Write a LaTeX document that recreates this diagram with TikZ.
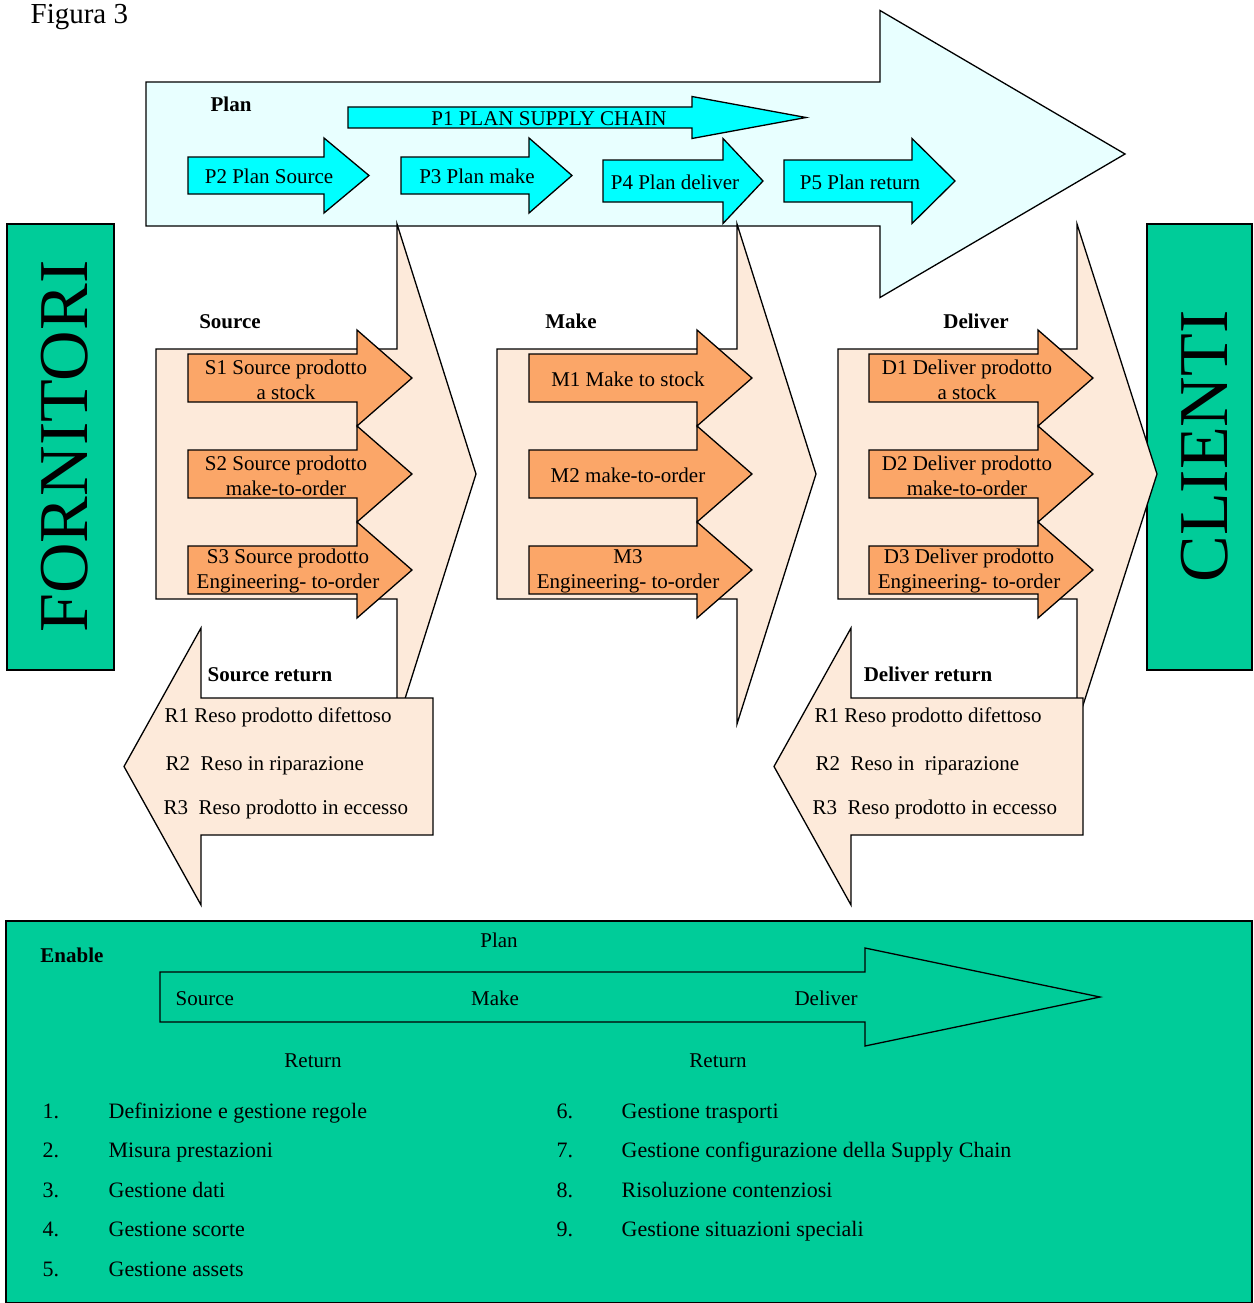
\documentclass[tikz,border=0pt]{standalone}
\usepackage{fontspec}
\setmainfont{Liberation Serif}

\definecolor{planbg}{RGB}{232,255,255}
\definecolor{plancyan}{RGB}{0,255,255}
\definecolor{peach}{RGB}{253,234,218}
\definecolor{procorange}{RGB}{251,166,104}
\definecolor{scorgreen}{RGB}{0,204,153}

% block arrow: style, back x, neck x, tip x, mid y, half body, half head
\newcommand{\fatarrow}[7]{%
  \filldraw[#1] (#2,#5-#6) -- (#3,#5-#6) -- (#3,#5-#7) -- (#4,#5)
    -- (#3,#5+#7) -- (#3,#5+#6) -- (#2,#5+#6) -- cycle;}

\begin{document}
\begin{tikzpicture}[x=1pt, y=-1pt, line width=1.3pt,
    plain/.style={font=\fontsize{21}{25}\selectfont, inner sep=0pt, align=center},
    heading/.style={font=\fontsize{21}{25}\selectfont\bfseries, inner sep=0pt, anchor=base},
    listtxt/.style={font=\fontsize{22}{26}\selectfont, inner sep=0pt, anchor=base west},
    bigtxt/.style={font=\fontsize{70}{70}\selectfont, inner sep=0pt, rotate=90, anchor=base},
    planshape/.style={draw=black, fill=planbg},
    planarrow/.style={draw=black, fill=plancyan},
    chevron/.style={draw=black, fill=peach},
    procarrow/.style={draw=black, fill=procorange},
    greenbox/.style={draw=black, fill=scorgreen}]

  \useasboundingbox (0,0) rectangle (1253,1303);

  \node[plain, anchor=base west, font=\fontsize{29}{32}\selectfont] (figtitle) at (30,24) {Figura 3};

  % Suppliers and customers
  \filldraw[greenbox] (7,224) rectangle (114,670);
  \filldraw[greenbox] (1147,224) rectangle (1252,670);
  \node[bigtxt] (fornitori) at (87,446.5) {FORNITORI};
  \node[bigtxt] (clienti) at (1227,446.5) {CLIENTI};

  % Plan
  \fatarrow{planshape}{146}{880}{1125}{154}{72}{143.5}
  \fatarrow{planarrow}{348}{692}{806}{117.5}{10.5}{21}
  \fatarrow{planarrow}{188}{324}{369}{175.5}{18.5}{37.5}
  \fatarrow{planarrow}{401}{529}{572}{175.5}{18.5}{37.5}
  \fatarrow{planarrow}{603}{723}{763}{181}{21}{42.5}
  \fatarrow{planarrow}{784}{912}{955}{181}{21}{42.5}

  \node[heading] (plantitle) at (231,112) {Plan};
  \node[plain, anchor=base] (p1) at (549,125) {P1 PLAN SUPPLY CHAIN};
  \node[plain, anchor=base] (p2) at (269,183) {P2 Plan Source};
  \node[plain, anchor=base] (p3) at (477,183) {P3 Plan make};
  \node[plain, anchor=base] (p4) at (675,189) {P4 Plan deliver};
  \node[plain, anchor=base] (p5) at (860,189) {P5 Plan return};

  % Source, Make, Deliver
  \foreach \lx/\nx/\tx in {156/397/476, 497/737/816, 838/1077/1157}
  {
    \fatarrow{chevron}{\lx}{\nx}{\tx}{474}{125}{250}
  }
  \foreach \lx/\nx/\tx in {188/357/412, 529/697/752, 869/1038/1093}
  {
    \foreach \yc in {378,474,570}
    {
      \fatarrow{procarrow}{\lx}{\nx}{\tx}{\yc}{24}{48}
    }
  }

  \node[heading] (sourcetitle) at (230,328) {Source};
  \node[heading] (maketitle) at (571,328) {Make};
  \node[heading] (delivertitle) at (976,328) {Deliver};

  \node[plain] (s1) at (286,380) {S1 Source prodotto\\a stock};
  \node[plain] (s2) at (286,476) {S2 Source prodotto\\make-to-order};
  \node[plain] (s3) at (288,571) {S3 Source prodotto\\Engineering- to-order};
  \node[plain] (m1) at (628,379) {M1 Make to stock};
  \node[plain] (m2) at (628,475) {M2 make-to-order};
  \node[plain] (m3) at (628,571) {M3\\Engineering- to-order};
  \node[plain] (d1) at (967,380) {D1 Deliver prodotto\\a stock};
  \node[plain] (d2) at (967,476) {D2 Deliver prodotto\\make-to-order};
  \node[plain] (d3) at (969,571) {D3 Deliver prodotto\\Engineering- to-order};

  % Returns
  \fatarrow{chevron}{433}{201}{124}{766.5}{68.5}{138.5}
  \fatarrow{chevron}{1083}{851}{774}{766.5}{68.5}{138.5}

  \node[heading] (sreturntitle) at (270,681) {Source return};
  \node[heading] (dreturntitle) at (928,681) {Deliver return};
  \node[plain, anchor=base west] (sr1) at (164,722) {R1 Reso prodotto difettoso};
  \node[plain, anchor=base west] (sr2) at (165,770) {R2\ \ Reso in riparazione};
  \node[plain, anchor=base west] (sr3) at (163,814) {R3\ \ Reso prodotto in eccesso};
  \node[plain, anchor=base west] (dr1) at (814,722) {R1 Reso prodotto difettoso};
  \node[plain, anchor=base west] (dr2) at (815,770) {R2\ \ Reso in\ \ riparazione};
  \node[plain, anchor=base west] (dr3) at (812,814) {R3\ \ Reso prodotto in eccesso};

  % Enable
  \filldraw[greenbox] (6,921) rectangle (1252,1303);
  \fatarrow{greenbox}{160}{865}{1100}{997}{25}{49}

  \node[heading] (enabletitle) at (72,962) {Enable};
  \node[plain, anchor=base] (eplan) at (499,947) {Plan};
  \node[plain, anchor=base west] (esource) at (175,1005) {Source};
  \node[plain, anchor=base] (emake) at (495,1005) {Make};
  \node[plain, anchor=base] (edeliver) at (826,1005) {Deliver};
  \node[plain, anchor=base] (ereturnl) at (313,1067) {Return};
  \node[plain, anchor=base] (ereturnr) at (718,1067) {Return};

  \foreach \k/\item in {1/Definizione e gestione regole, 2/Misura prestazioni,
      3/Gestione dati, 4/Gestione scorte, 5/Gestione assets}
  {
    \pgfmathsetmacro{\yb}{1118+(\k-1)*39.5}
    \node[listtxt] (num\k) at (42,\yb) {\k.};
    \node[listtxt] (item\k) at (108,\yb) {\item};
  }
  \foreach \k/\item in {6/Gestione trasporti, 7/Gestione configurazione della Supply Chain,
      8/Risoluzione contenziosi, 9/Gestione situazioni speciali}
  {
    \pgfmathsetmacro{\yb}{1118+(\k-6)*39.5}
    \node[listtxt] (num\k) at (556,\yb) {\k.};
    \node[listtxt] (item\k) at (621,\yb) {\item};
  }

\end{tikzpicture}
\end{document}
